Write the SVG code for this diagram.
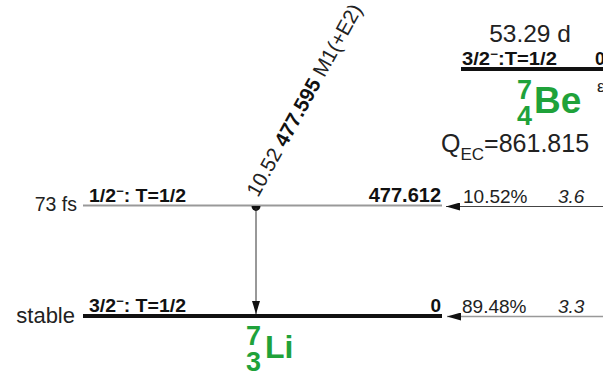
<svg xmlns="http://www.w3.org/2000/svg" width="603" height="376" viewBox="0 0 603 376">
<style>
text{font-family:"Liberation Sans",Arial,Helvetica,sans-serif;fill:#222}
.b{font-weight:bold;fill:#111}
.it{font-style:italic}
.g{fill:#1fa23a;font-weight:bold}
</style>
<defs>
<marker id="ah" viewBox="0 0 14 8" refX="14" refY="4" markerWidth="14" markerHeight="8" markerUnits="userSpaceOnUse" orient="auto">
<path d="M0,0 L14,4 L0,8 Z" fill="#111"/>
</marker>
<marker id="av" viewBox="0 0 8 13" refX="4" refY="13" markerWidth="8" markerHeight="13" markerUnits="userSpaceOnUse" orient="0">
<path d="M0,0 L8,0 L4,13 Z" fill="#111"/>
</marker>
</defs>
<g id="parent-Be7">
<text x="530" y="42" font-size="24.5" text-anchor="middle">53.29 d</text>
<line x1="461" y1="69" x2="603" y2="69" stroke="#111" stroke-width="4"/>
<text x="462" y="65" class="b" font-size="18" textLength="95" lengthAdjust="spacingAndGlyphs">3/2<tspan font-size="12" dy="-7">−</tspan><tspan dy="7">:T=1/2</tspan></text>
<text x="595" y="65" class="b" font-size="18">0</text>
<text x="517" y="99" class="g" font-size="27">7</text>
<text x="517" y="125" class="g" font-size="27">4</text>
<text x="534" y="113" class="g" font-size="37">Be</text>
<text x="597" y="92" font-size="17" fill="#444">ε</text>
<text x="441" y="152" font-size="25">Q<tspan font-size="17" dy="8">EC</tspan><tspan dy="-8">=861.815</tspan></text>
</g>
<g id="level-477">
<line x1="83" y1="205.5" x2="442" y2="205.5" stroke="#999" stroke-width="1.8"/>
<text x="77" y="210.5" font-size="19.5" text-anchor="end">73 fs</text>
<text x="89" y="202" class="b" font-size="18" textLength="97" lengthAdjust="spacingAndGlyphs">1/2<tspan font-size="12" dy="-7">−</tspan><tspan dy="7">: T=1/2</tspan></text>
<text x="441" y="202" class="b" font-size="20" text-anchor="end">477.612</text>
<text x="463" y="202.5" font-size="19">10.52%</text>
<text x="558" y="202.5" class="it" font-size="19">3.6</text>
</g>
<g id="level-0">
<line x1="83" y1="316" x2="442" y2="316" stroke="#111" stroke-width="4"/>
<text x="75" y="323" font-size="22" text-anchor="end">stable</text>
<text x="89" y="311.5" class="b" font-size="18" textLength="97" lengthAdjust="spacingAndGlyphs">3/2<tspan font-size="12" dy="-7">−</tspan><tspan dy="7">: T=1/2</tspan></text>
<text x="441" y="311.5" class="b" font-size="19" text-anchor="end">0</text>
<text x="462" y="313" font-size="19">89.48%</text>
<text x="558" y="313" class="it" font-size="19">3.3</text>
</g>
<g id="daughter-Li7">
<text x="246" y="345" class="g" font-size="27">7</text>
<text x="246" y="371" class="g" font-size="27">3</text>
<text x="265" y="358" class="g" font-size="32">Li</text>
</g>
<g id="connectors">
<line x1="603" y1="206.5" x2="446" y2="206.5" stroke="#444" stroke-width="1" marker-end="url(#ah)"/>
<line x1="603" y1="316.5" x2="447" y2="316.5" stroke="#999" stroke-width="1.5" marker-end="url(#ah)"/>
<path d="M251.5,206 A4.5,5 0 0 0 260.5,206 Z" fill="#111"/>
<line x1="256" y1="208" x2="256" y2="314" stroke="#333" stroke-width="1" marker-end="url(#av)"/>
<text transform="translate(258,198) rotate(-61)" font-size="20.5">10.52 <tspan class="b">477.595</tspan> M1(+E2)</text>
</g>
</svg>
